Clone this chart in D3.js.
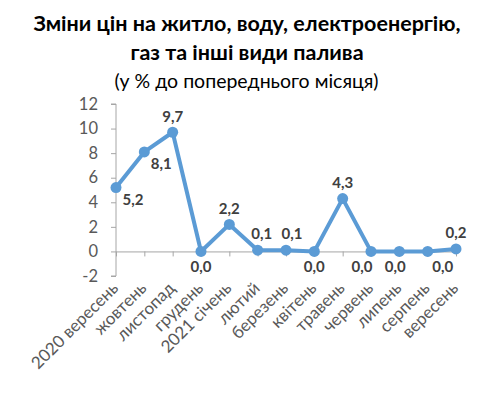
<!DOCTYPE html>
<html>
<head>
<meta charset="utf-8">
<script src="https://cdn.jsdelivr.net/npm/d3@7"></script>
<style>
  body { margin: 0; background: #fff; }
  text { font-family: Lato, "Open Sans", sans-serif; }
</style>
</head>
<body>
<div id="chart"></div>
<script>
const months = ['2020 вересень', 'жовтень', 'листопад', 'грудень', '2021 січень', 'лютий',
    'березень', 'квітень', 'травень', 'червень', 'липень', 'серпень', 'вересень'];
const values = [5.2, 8.1, 9.7, 0.0, 2.2, 0.1, 0.1, 0.0, 4.3, 0.0, 0.0, 0.0, 0.2];
const yTicks = [-2, 0, 2, 4, 6, 8, 10, 12];
const titleLines = ['Зміни цін на житло, воду, електроенергію,', 'газ та інші види палива'];
const subtitle = '(у % до попереднього місяця)';

// label placement: where each value label sits relative to its point
const labelPos = ['br', 'br', 't', 'b', 't', 't', 't', 'b', 't', 'b', 'b', 'b', 't'];
const labelDx = [0, 0, 0, 0, 0, 4, 6, 0, 0, -9, -4, 15, 0];

const W = 480, H = 397;
const margin = {top: 104, right: 24, bottom: 121, left: 116};

let w = W - margin.left - margin.right,
    h = H - margin.top - margin.bottom;

let svg = d3.select('#chart').append('svg')
    .attr('width', W)
    .attr('height', H);

svg.selectAll('text.title')
    .data(titleLines)
    .enter()
    .append('text')
    .attr('class', 'title')
    .attr('x', 247)
    .attr('y', (d, i) => 31 + i * 28.5)
    .attr('text-anchor', 'middle')
    .style('font-size', '21.5px')
    .style('font-weight', 'bold')
    .attr('fill', '#000')
    .text(d => d);

svg.append('text')
    .attr('x', 246.5)
    .attr('y', 88)
    .attr('text-anchor', 'middle')
    .style('font-size', '19.5px')
    .attr('fill', '#000')
    .text(subtitle);

let g = svg.append('g')
    .attr('transform', 'translate(' + margin.left + ',' + margin.top + ')');

let xScale = d3.scalePoint()
    .domain(months)
    .range([0, w]);

let yScale = d3.scaleLinear()
    .domain([-2, 12])
    .range([h, 0]);

// y axis
let yAxis = g.append('g')
    .call(d3.axisLeft(yScale).tickValues(yTicks).tickSize(5).tickPadding(13).tickFormat(d3.format('d')));
yAxis.select('.domain').attr('stroke', '#a6a6a6').attr('d', 'M-5,' + h + 'H0V' + yScale(12) + 'H-5');
yAxis.selectAll('.tick line').attr('stroke', '#a6a6a6');
yAxis.selectAll('.tick text')
    .attr('fill', '#595959')
    .style('font-size', '16.5px')
    .text(d => d < 0 ? '-' + Math.abs(d) : d);

// x axis at zero
let xAxis = g.append('g')
    .attr('transform', 'translate(0,' + yScale(0) + ')')
    .call(d3.axisBottom(xScale).tickSize(5).tickSizeOuter(0).tickFormat(''));
xAxis.select('.domain').attr('stroke', '#a6a6a6');
xAxis.selectAll('.tick line').attr('stroke', '#a6a6a6');

// category labels, rotated
g.selectAll('text.cat')
    .data(months)
    .enter()
    .append('text')
    .attr('class', 'cat')
    .attr('transform', d => 'translate(' + (xScale(d) - 1) + ',' + (h + 9) + ') rotate(-45)')
    .attr('text-anchor', 'end')
    .attr('dy', '0.35em')
    .attr('fill', '#595959')
    .style('font-size', '17px')
    .text(d => d);

let line = d3.line()
    .x((d, i) => xScale(months[i]))
    .y(d => yScale(d));

g.append('path')
    .datum(values)
    .attr('fill', 'none')
    .attr('stroke', '#5b9bd5')
    .attr('stroke-width', 4)
    .attr('stroke-linejoin', 'round')
    .attr('d', line);

g.selectAll('circle')
    .data(values)
    .enter()
    .append('circle')
    .attr('cx', (d, i) => xScale(months[i]))
    .attr('cy', d => yScale(d))
    .attr('r', 5.5)
    .attr('fill', '#5b9bd5');

const fmt = d => d3.format('.1f')(d).replace('.', ',');

g.selectAll('text.lbl')
    .data(values)
    .enter()
    .append('text')
    .attr('class', 'lbl')
    .attr('x', (d, i) => xScale(months[i]) + labelDx[i] + (labelPos[i] === 'br' ? 17 : 0))
    .attr('y', (d, i) => yScale(d) + (labelPos[i] === 't' ? -16 : (labelPos[i] === 'br' ? 12 : 15)))
    .attr('dy', '0.35em')
    .attr('text-anchor', 'middle')
    .attr('fill', '#404040')
    .style('font-size', '15px')
    .style('font-weight', 'bold')
    .text(d => fmt(d));
</script>
</body>
</html>
